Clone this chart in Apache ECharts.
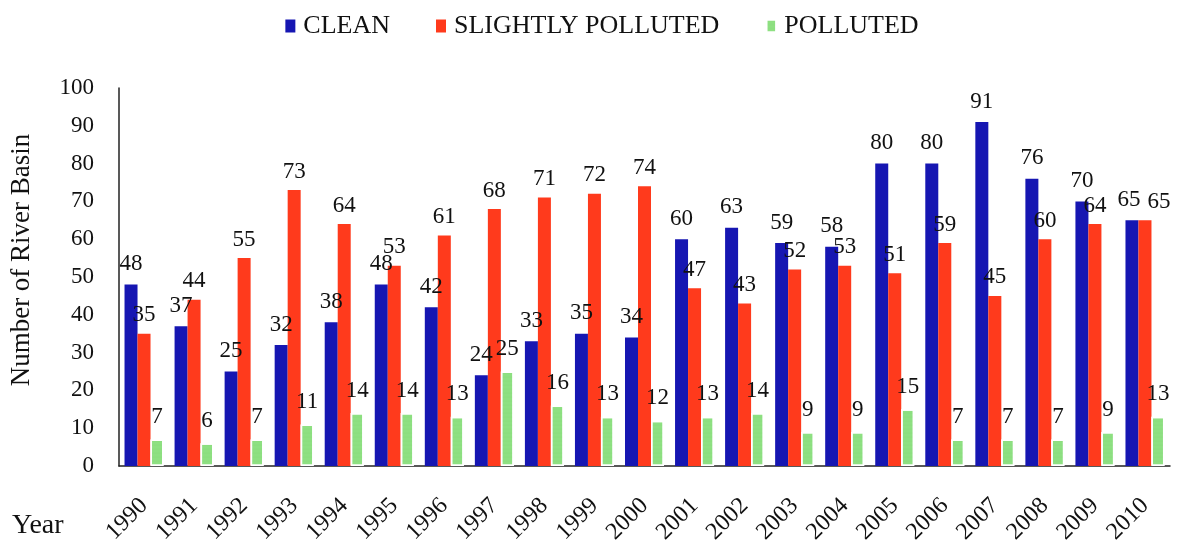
<!DOCTYPE html>
<html>
<head>
<meta charset="utf-8">
<script src="https://cdn.jsdelivr.net/npm/echarts@6/dist/echarts.min.js"></script>
<style>
  html, body { margin: 0; padding: 0; background: #fff; }
  #chart { width: 1204px; height: 549px; }
</style>
</head>
<body>
<div id="chart"></div>
<script>
// River basin water quality counts per year
const years = ['1990','1991','1992','1993','1994','1995','1996','1997','1998','1999','2000',
               '2001','2002','2003','2004','2005','2006','2007','2008','2009','2010'];
const clean = [48,37,25,32,38,48,42,24,33,35,34,60,63,59,58,80,80,91,76,70,65];
const slightlyPolluted = [35,44,55,73,64,53,61,68,71,72,74,47,43,52,53,51,59,45,60,64,65];
const polluted = [7,6,7,11,14,14,13,25,16,13,12,13,14,9,9,15,7,7,7,9,13];
const seriesNames = ['CLEAN', 'SLIGHTLY POLLUTED', 'POLLUTED'];

const serif = '"Liberation Serif", "Times New Roman", serif';
const labelStyle = { show: true, position: 'top', color: '#111', fontFamily: serif, fontSize: 23 };

// The last pair of equal bars gets its labels pulled apart so both stay readable
const redData = slightlyPolluted.map((v, i) =>
  i === slightlyPolluted.length - 1 ? { value: v, label: { offset: [14, 0] } } : v);
const blueData = clean.map((v, i) =>
  i === clean.length - 1 ? { value: v, label: { offset: [-3, 0] } } : v);

const chart = echarts.init(document.getElementById('chart'));
chart.setOption({
  animation: false,
  textStyle: { fontFamily: serif },
  legend: {
    top: 8,
    left: 'center',
    itemWidth: 10,
    itemHeight: 13,
    itemGap: 46,
    icon: 'rect',
    textStyle: { fontFamily: serif, fontSize: 26, color: '#111', padding: [0, 0, 0, 3] },
    data: seriesNames
  },
  grid: { left: 118, right: 34, top: 88, bottom: 83 },
  xAxis: {
    type: 'category',
    data: years,
    axisLine: { lineStyle: { color: '#222', width: 1.5 } },
    axisTick: { show: false },
    axisLabel: { rotate: 45, margin: 36, color: '#111', fontFamily: serif, fontSize: 24, interval: 0 }
  },
  yAxis: {
    type: 'value',
    min: 0, max: 100, interval: 10,
    name: 'Number of River Basin',
    nameLocation: 'middle',
    nameRotate: 90,
    nameGap: 84,
    nameTextStyle: { fontFamily: serif, fontSize: 27, color: '#111', padding: [0, 0, 0, 34] },
    axisLine: { show: true, lineStyle: { color: '#222', width: 1.5 } },
    axisTick: { show: false },
    splitLine: { show: false },
    axisLabel: { margin: 25, color: '#111', fontFamily: serif, fontSize: 23 }
  },
  graphic: [{
    type: 'text',
    left: 12,
    top: 512,
    style: { text: 'Year', fontFamily: serif, fontSize: 28, fill: '#111' }
  }],
  series: [
    {
      name: seriesNames[0], type: 'bar', data: blueData,
      barWidth: 13, barGap: '0%',
      itemStyle: { color: '#1616b2' },
      label: Object.assign({ distance: 9 }, labelStyle)
    },
    {
      name: seriesNames[1], type: 'bar', data: redData,
      barWidth: 13, barGap: '0%',
      itemStyle: { color: '#ff3a1c' },
      label: Object.assign({ distance: 7 }, labelStyle)
    },
    {
      name: seriesNames[2], type: 'bar', data: polluted,
      barWidth: 13, barGap: '0%',
      itemStyle: {
        color: '#8ee082', borderColor: '#fff', borderWidth: 1.5,
        decal: { symbol: 'circle', symbolSize: 0.35, dashArrayX: [1, 0], dashArrayY: [2, 2], color: 'rgba(70,170,60,0.4)' }
      },
      label: Object.assign({ distance: 11 }, labelStyle)
    }
  ]
});
</script>
</body>
</html>
